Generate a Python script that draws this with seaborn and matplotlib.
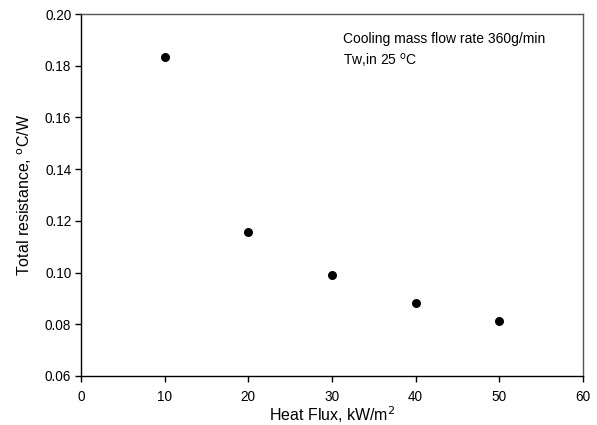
import matplotlib
matplotlib.use("Agg")
import matplotlib.pyplot as plt
import pandas as pd
import seaborn as sns

# data
heat_flux = [10, 20, 30, 40, 50]
resistance = [0.1832, 0.1157, 0.0990, 0.0884, 0.0813]
x_ticks = [0, 10, 20, 30, 40, 50, 60]
y_ticks = [0.06, 0.08, 0.10, 0.12, 0.14, 0.16, 0.18, 0.20]

sns.set_theme(style="ticks")
plt.rcParams["font.family"] = ["Liberation Sans", "DejaVu Sans"]
plt.rcParams["text.color"] = "black"
plt.rcParams["axes.labelcolor"] = "black"

df = pd.DataFrame({"flux": heat_flux, "res": resistance})

fig = plt.figure(figsize=(5.97, 4.25), dpi=100)
ax = fig.add_axes([0.1357, 0.1153, 0.8408, 0.8517])

sns.scatterplot(data=df, x="flux", y="res", ax=ax, color="black",
                s=42, edgecolor="black", linewidth=0)

ax.set_xlim(0, 60)
ax.set_ylim(0.06, 0.20)
ax.set_xticks(x_ticks)
ax.set_yticks(y_ticks)
ax.set_yticklabels([f"{v:.2f}" for v in y_ticks])
ax.tick_params(direction="out", length=4, width=1, labelsize=9.8,
               color="black", labelcolor="black", pad=3)
ax.tick_params(axis="x", pad=6)

for side in ["left", "bottom"]:
    ax.spines[side].set_color("black")
    ax.spines[side].set_linewidth(1)
for side in ["top", "right"]:
    ax.spines[side].set_color("#555555")
    ax.spines[side].set_linewidth(1)

ax.set_xlabel("Heat Flux, kW/m$^2$", fontsize=11.5, labelpad=0)
ax.set_ylabel("Total resistance, $^{\\mathrm{o}}$C/W", fontsize=11.5, labelpad=8)

ax.text(0.522, 0.93, "Cooling mass flow rate 360g/min", transform=ax.transAxes,
        fontsize=10, va="center")
ax.text(0.522, 0.872, "Tw,in 25 $^{\\mathrm{o}}$C", transform=ax.transAxes,
        fontsize=10, va="center")

fig.savefig("out.png", dpi=100)
